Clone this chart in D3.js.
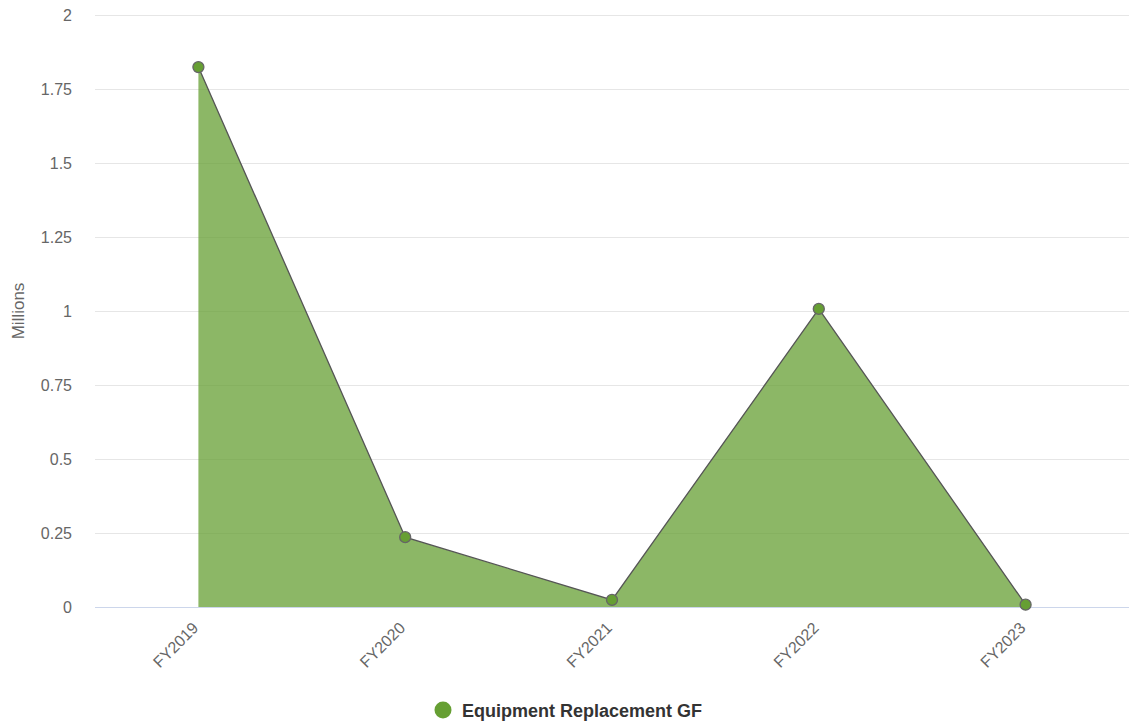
<!DOCTYPE html>
<html><head><meta charset="utf-8">
<script src="https://cdn.jsdelivr.net/npm/d3@7"></script>
<style>body{margin:0;background:#fff;font-family:"Liberation Sans",Arial,sans-serif;}</style>
</head><body>
<svg id="chart" width="1129" height="726"></svg>
<script>
const categories = ["FY2019","FY2020","FY2021","FY2022","FY2023"];
const seriesName = "Equipment Replacement GF";
const values = [1.824, 0.236, 0.024, 1.007, 0.008];
const yTicks = [0, 0.25, 0.5, 0.75, 1, 1.25, 1.5, 1.75, 2];

(function(){
const svg = d3.select("#chart");
const mLeft = 95, mRight = 1129, mTop = 15, mBottom = 607;
const x = d3.scaleBand().domain(categories).range([mLeft, mRight]);
const y = d3.scaleLinear().domain([0, 2]).range([mBottom, mTop]);
const cx = d => x(d) + x.bandwidth()/2;

svg.append("g").selectAll("line").data(yTicks.filter(t=>t>0)).join("line")
  .attr("x1", mLeft).attr("x2", mRight)
  .attr("y1", d=>Math.round(y(d))+0.5).attr("y2", d=>Math.round(y(d))+0.5)
  .attr("stroke", "#e6e6e6").attr("stroke-width", 1);

svg.append("g").selectAll("text").data(yTicks).join("text")
  .attr("x", 72).attr("y", d=>y(d)+5.5)
  .attr("text-anchor","end").attr("fill","#666").attr("font-size","16px")
  .text(d=>d);

svg.append("text").attr("transform","translate(24,311) rotate(-90)")
  .attr("text-anchor","middle").attr("fill","#666").attr("font-size","17px").text("Millions");

const data = categories.map((c,i)=>({c, v: values[i]}));

svg.append("path").datum(data)
  .attr("d", d3.area().x(d=>cx(d.c)).y0(y(0)).y1(d=>y(d.v)))
  .attr("fill", "#669f33").attr("fill-opacity", 0.75);

svg.append("line").attr("x1", mLeft).attr("x2", mRight).attr("y1", mBottom+0.5).attr("y2", mBottom+0.5)
  .attr("stroke", "#ccd6eb").attr("stroke-width", 1);

svg.append("path").datum(data)
  .attr("d", d3.line().x(d=>cx(d.c)).y(d=>y(d.v)))
  .attr("fill","none").attr("stroke","#555").attr("stroke-width",1.3);

svg.append("g").selectAll("circle").data(data).join("circle")
  .attr("cx", d=>cx(d.c)).attr("cy", d=>y(d.v)).attr("r", 5.5)
  .attr("fill","#669f33").attr("stroke","#666").attr("stroke-width",1.3);

svg.append("g").selectAll("text").data(categories).join("text")
  .attr("transform", d=>`translate(${cx(d)+1},${mBottom+22}) rotate(-45)`)
  .attr("text-anchor","end").attr("fill","#666").attr("font-size","16px")
  .text(d=>d);

const lg = svg.append("g");
lg.append("circle").attr("cx", 443).attr("cy", 710).attr("r", 8.5).attr("fill","#669f33");
lg.append("text").attr("x", 462).attr("y", 716.5).attr("fill","#333").attr("font-size","18px")
  .attr("font-weight","bold").text(seriesName);
})();
</script>
</body></html>
